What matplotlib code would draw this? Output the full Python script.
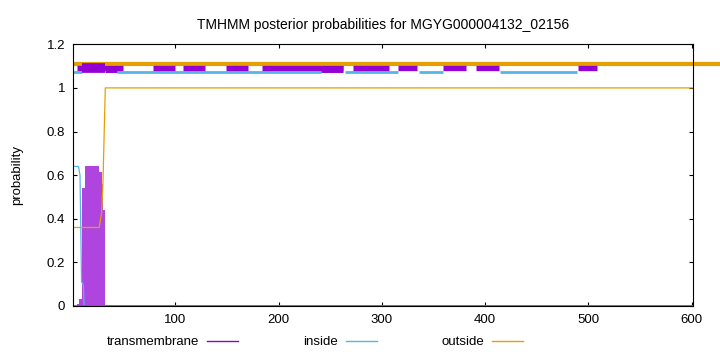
import numpy as np
import matplotlib.pyplot as plt
from matplotlib.ticker import FuncFormatter

plt.rcParams['font.family'] = ['Liberation Sans', 'DejaVu Sans']

title = 'TMHMM posterior probabilities for MGYG000004132_02156'
seq_len = 601

# posterior curves (position, probability)
tm_pos = [1, 5, 7, 9, 12, 26, 28.5, 30, 32, 601]
tm_prob = [0.0, 0.01, 0.03, 0.54, 0.64, 0.615, 0.56, 0.44, 0.0, 0.0]
inside_pos = [1, 6, 7.5, 9, 10.7, 11.5, 601]
inside_prob = [0.64, 0.64, 0.60, 0.11, 0.10, 0.0, 0.0]
outside_pos = [1, 26, 28.5, 29.7, 32, 601]
outside_prob = [0.36, 0.36, 0.43, 0.56, 1.0, 1.0]

# topology strip segments (start, end)
tm_segs = [(5, 49), (78, 99.5), (107, 128.5), (149, 170), (184, 262),
           (272, 307), (316, 334), (359, 381), (391, 413), (490, 508)]
tm_blobs = [(9, 32), (32, 43), (241, 262)]
inside_segs = [(1, 9.5), (43, 241), (264, 316), (336, 359), (414, 489)]
outside_segs = [(1, 627)]

c_tm = '#9400d3'
c_in = '#56b4e9'
c_out = '#e69f00'

fig = plt.figure(figsize=(7.2, 3.52), dpi=100)
ax = fig.add_axes([0.1018, 0.1307, 0.8603, 0.7435])

ax.fill_between(tm_pos, tm_prob, step='post', color='#b044de', lw=0)
ax.plot(inside_pos, inside_prob, color=c_in, lw=0.9)
ax.plot(outside_pos, outside_prob, color=c_out, lw=0.9)
ax.plot([1, seq_len], [0, 0], color='#3a7ca5', lw=1.2)

for a, b in inside_segs:
    ax.plot([a, b], [1.073, 1.073], color=c_in, lw=2.0, solid_capstyle='butt')
for a, b in outside_segs:
    ax.plot([a, b], [1.111, 1.111], color=c_out, lw=3.0, solid_capstyle='butt', clip_on=False)
for a, b in tm_segs:
    ax.plot([a, b], [1.091, 1.091], color=c_tm, lw=3.8, solid_capstyle='butt')
ax.plot([tm_blobs[0][0], tm_blobs[0][1]], [1.09, 1.09], color=c_tm, lw=7.0, solid_capstyle='butt')
ax.plot([tm_blobs[1][0], tm_blobs[1][1]], [1.087, 1.087], color=c_tm, lw=5.0, solid_capstyle='butt')
ax.plot([tm_blobs[2][0], tm_blobs[2][1]], [1.085, 1.085], color=c_tm, lw=5.0, solid_capstyle='butt')

# legend handles
ax.plot([], [], color=c_tm, lw=1, label='transmembrane')
ax.plot([], [], color=c_in, lw=1, label='inside')
ax.plot([], [], color=c_out, lw=1, label='outside')
handles, labels = ax.get_legend_handles_labels()
ax.legend(handles[-3:], labels[-3:], loc='center', bbox_to_anchor=(0.39, -0.138),
          ncol=3, frameon=False, markerfirst=False, handlelength=2.35,
          handletextpad=0.6, columnspacing=4.9, fontsize=9.5)

ax.set_xlim(1, seq_len)
ax.set_ylim(0, 1.2)
ax.set_xticks([100, 200, 300, 400, 500, 600])
ax.set_yticks([0, 0.2, 0.4, 0.6, 0.8, 1.0, 1.2])
ax.yaxis.set_major_formatter(FuncFormatter(lambda v, p: f'{v:g}'))
ax.tick_params(direction='in', length=3, top=True, right=True, labelsize=9.5, pad=6)
ax.set_ylabel('probability', fontsize=9.5, labelpad=17)
ax.set_title(title, fontsize=10, pad=11)

fig.savefig('out.png', dpi=100)
